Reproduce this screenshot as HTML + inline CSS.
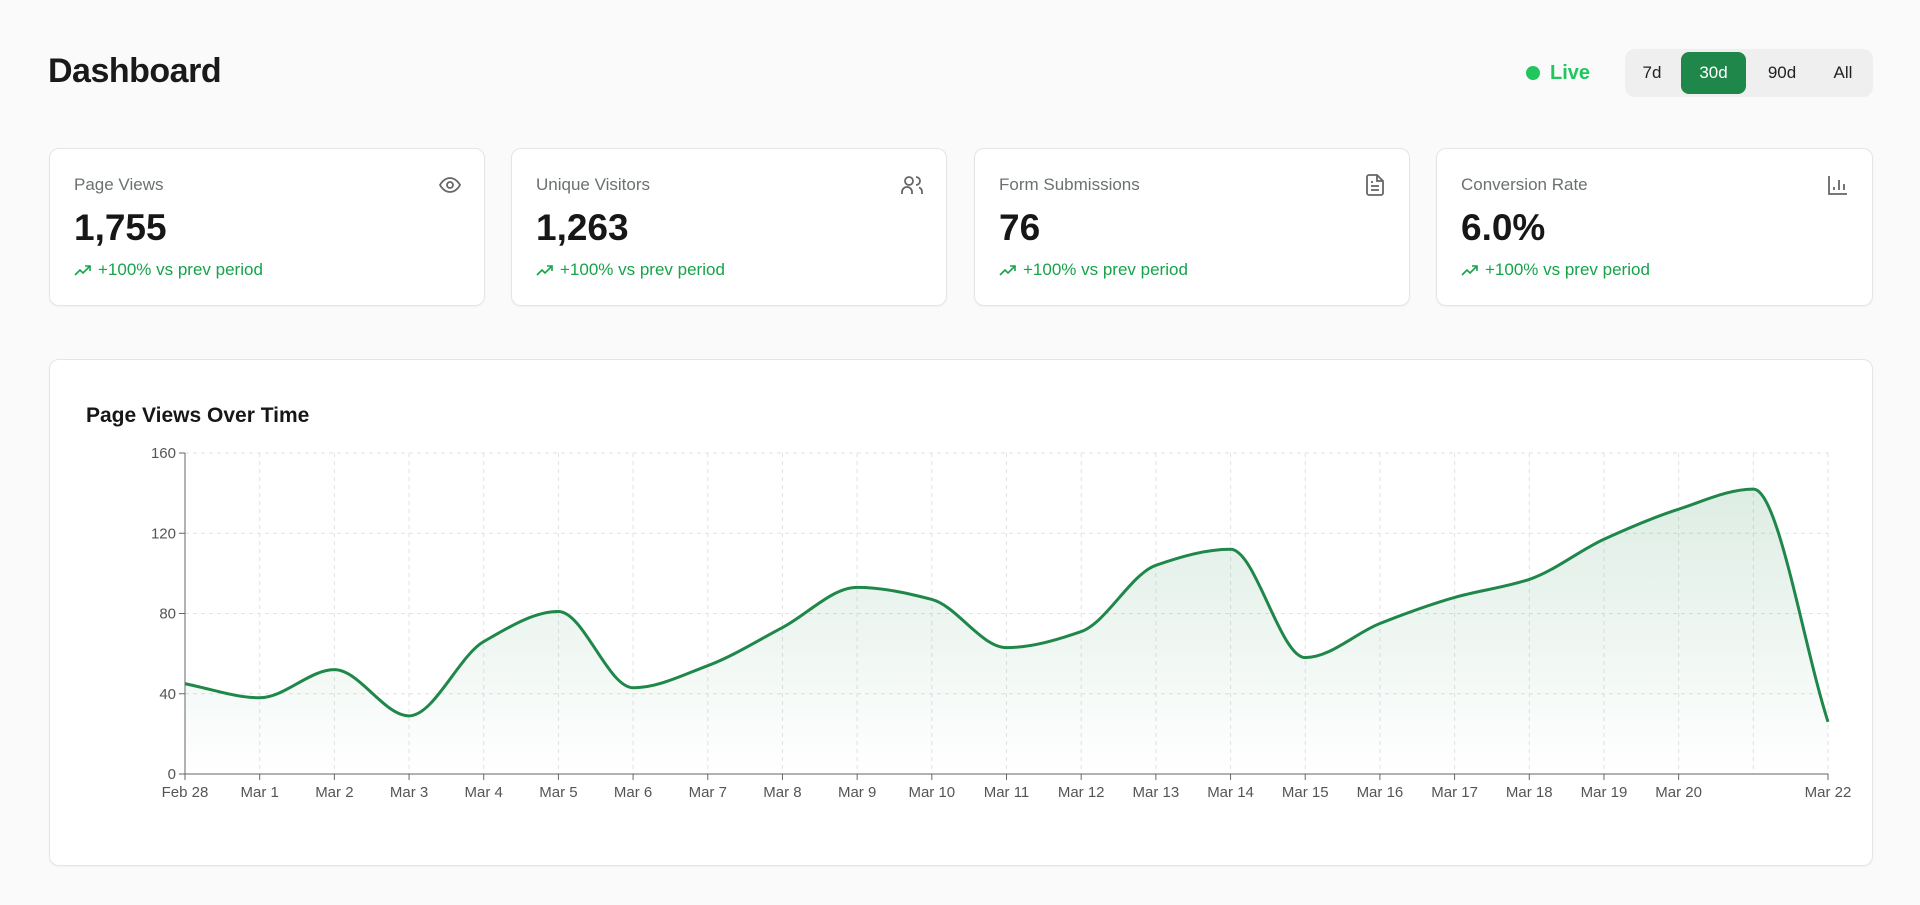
<!DOCTYPE html>
<html><head><meta charset="utf-8"><style>
*{box-sizing:border-box;margin:0;padding:0}
body{width:1920px;height:905px;background:#fafafa;font-family:"Liberation Sans",sans-serif;position:relative;overflow:hidden;color:#171717}
.abs{position:absolute}
h1{position:absolute;left:48px;top:52px;font-size:34px;font-weight:bold;letter-spacing:-0.5px;color:#1a1a1a}
.card{position:absolute;background:#fff;border:1.5px solid #e5e5e5;border-radius:10px;box-shadow:0 1px 2px rgba(0,0,0,0.04)}
.lbl{position:absolute;left:24px;top:26px;font-size:17px;color:#6b7070}
.val{position:absolute;left:24px;top:58px;font-size:37px;font-weight:bold;color:#171717}
.chg{position:absolute;left:24px;top:111px;font-size:17px;color:#16a34a;white-space:nowrap}
.chg svg{vertical-align:-2px;margin-right:6px}
.ico{position:absolute;right:22px;top:24px}
.seg{position:absolute;left:1625px;top:49px;width:248px;height:48px;background:#efefef;border-radius:10px}
.btn{position:absolute;top:3px;height:42px;line-height:42px;font-size:17px;text-align:center;color:#222;border-radius:8px;font-weight:500}
</style></head><body>
<h1>Dashboard</h1>
<div class="abs" style="left:1526px;top:62px;">
 <span style="position:absolute;left:0;top:4px;width:14px;height:14px;border-radius:50%;background:#22c55e"></span>
 <span style="position:absolute;left:24px;top:0;font-size:20px;color:#22c55e;font-weight:bold;white-space:nowrap">Live</span>
</div>
<div class="seg">
 <div class="btn" style="left:6px;width:42px">7d</div>
 <div class="btn" style="left:56px;width:65px;background:#1f874a;color:#fff">30d</div>
 <div class="btn" style="left:129px;width:56px">90d</div>
 <div class="btn" style="left:193px;width:50px">All</div>
</div>

<div class="card" style="left:49px;top:148px;width:436px;height:158px">
 <div class="lbl">Page Views</div><div class="val">1,755</div><div class="chg"><svg width="18" height="14" viewBox="0 0 18 14" fill="none" stroke="#16a34a" stroke-width="1.6"><path d="M1 12l5-5 3 3 7-7M11 3h5v5"/></svg>+100% vs prev period</div>
 <svg class="ico" width="24" height="24" viewBox="0 0 24 24" fill="none" stroke="#666" stroke-width="1.8"><path d="M2 12s3.5-7 10-7 10 7 10 7-3.5 7-10 7S2 12 2 12z"/><circle cx="12" cy="12" r="3"/></svg>
</div>
<div class="card" style="left:511px;top:148px;width:436px;height:158px">
 <div class="lbl">Unique Visitors</div><div class="val">1,263</div><div class="chg"><svg width="18" height="14" viewBox="0 0 18 14" fill="none" stroke="#16a34a" stroke-width="1.6"><path d="M1 12l5-5 3 3 7-7M11 3h5v5"/></svg>+100% vs prev period</div>
 <svg class="ico" width="24" height="24" viewBox="0 0 24 24" fill="none" stroke="#666" stroke-width="1.8"><circle cx="9" cy="8" r="4"/><path d="M2 21v-2a5 5 0 0 1 10 0v2M16 4a4 4 0 0 1 0 8M22 21v-2a5 5 0 0 0-3-4.6"/></svg>
</div>
<div class="card" style="left:974px;top:148px;width:436px;height:158px">
 <div class="lbl">Form Submissions</div><div class="val">76</div><div class="chg"><svg width="18" height="14" viewBox="0 0 18 14" fill="none" stroke="#16a34a" stroke-width="1.6"><path d="M1 12l5-5 3 3 7-7M11 3h5v5"/></svg>+100% vs prev period</div>
 <svg class="ico" width="24" height="24" viewBox="0 0 24 24" fill="none" stroke="#666" stroke-width="1.8"><path d="M14 2H6a2 2 0 0 0-2 2v16a2 2 0 0 0 2 2h12a2 2 0 0 0 2-2V8z"/><path d="M14 2v6h6M8 13h8M8 17h8M8 9h2"/></svg>
</div>
<div class="card" style="left:1436px;top:148px;width:437px;height:158px">
 <div class="lbl">Conversion Rate</div><div class="val">6.0%</div><div class="chg"><svg width="18" height="14" viewBox="0 0 18 14" fill="none" stroke="#16a34a" stroke-width="1.6"><path d="M1 12l5-5 3 3 7-7M11 3h5v5"/></svg>+100% vs prev period</div>
 <svg class="ico" width="24" height="24" viewBox="0 0 24 24" fill="none" stroke="#666" stroke-width="1.8"><path d="M3 3v18h18M8 17v-3M13 17V7M18 17v-6"/></svg>
</div>

<div class="card" style="left:49px;top:359px;width:1824px;height:507px">
 <div class="abs" style="left:36px;top:44px;font-size:21px;font-weight:bold;color:#171717">Page Views Over Time</div>
</div>
<svg id="chart" class="abs" style="left:0;top:0" width="1920" height="905"></svg>
<script>
const categories=["Feb 28","Mar 1","Mar 2","Mar 3","Mar 4","Mar 5","Mar 6","Mar 7","Mar 8","Mar 9","Mar 10","Mar 11","Mar 12","Mar 13","Mar 14","Mar 15","Mar 16","Mar 17","Mar 18","Mar 19","Mar 20","Mar 21","Mar 22"];
const pageViews=[45,38,52,29,66,81,43,54,73,93,87,63,71,104,112,58,75,88,97,117,132,142,26];
const yTicks=[0,40,80,120,160];
const xLabelSkip=["Mar 21"];
const NS="http://www.w3.org/2000/svg";
const svg=document.getElementById('chart');
const X0=185,X1=1828,Y0=774,Y1=453,YMAX=160;
const xs=i=>X0+(X1-X0)*i/(categories.length-1);
const ys=v=>Y0-(Y0-Y1)*v/YMAX;
function mk(t,a){const e=document.createElementNS(NS,t);for(const k in a)e.setAttribute(k,a[k]);svg.appendChild(e);return e;}
const defs=mk('defs',{});
defs.innerHTML='<linearGradient id="g" x1="0" y1="0" x2="0" y2="1"><stop offset="0" stop-color="#1f874a" stop-opacity="0.15"/><stop offset="1" stop-color="#1f874a" stop-opacity="0"/></linearGradient>';
yTicks.forEach(t=>{
 if(t>0){const l=mk('line',{x1:X0,x2:X1,y1:ys(t),y2:ys(t),stroke:'#e2e2e2','stroke-dasharray':'4 4'});
 
 }
 const tk=mk('line',{x1:X0-6,x2:X0,y1:ys(t),y2:ys(t),stroke:'#666'});
 
 
 const tx=mk('text',{x:X0-9,y:ys(t)+5,'text-anchor':'end','font-size':'15','fill':'#555','font-family':'Liberation Sans, sans-serif'});
 tx.textContent=t;
 
 
});
categories.forEach((c,i)=>{
 if(i>0){const l=mk('line',{x1:xs(i),x2:xs(i),y1:Y1,y2:Y0,stroke:'#e2e2e2','stroke-dasharray':'4 4'});
 
 }
 if(xLabelSkip.includes(c))return;
 const tk=mk('line',{x1:xs(i),x2:xs(i),y1:Y0,y2:Y0+6,stroke:'#666'});
 
 
 const tx=mk('text',{x:xs(i),y:Y0+23,'text-anchor':'middle','font-size':'15','fill':'#555','font-family':'Liberation Sans, sans-serif'});
 tx.textContent=c;
 
 
});
const P=pageViews.map((v,i)=>[xs(i),ys(v)]);
const n=P.length,d=[],m=[];
for(let i=0;i<n-1;i++)d.push((P[i+1][1]-P[i][1])/(P[i+1][0]-P[i][0]));
for(let i=0;i<n;i++){
 if(i==0)m.push(d[0]);else if(i==n-1)m.push(d[n-2]);
 else{const a=d[i-1],b=d[i];m.push((a*b<=0)?0:2/(1/a+1/b));}
}
let path='M'+P[0][0]+','+P[0][1];
for(let i=0;i<n-1;i++){const h=(P[i+1][0]-P[i][0])/3;
 path+=`C${P[i][0]+h},${P[i][1]+m[i]*h} ${P[i+1][0]-h},${P[i+1][1]-m[i+1]*h} ${P[i+1][0]},${P[i+1][1]}`;}
const area=mk('path',{d:path+`L${X1},${Y0}L${X0},${Y0}Z`,fill:'url(#g)'});


const line=mk('path',{d:path,fill:'none',stroke:'#1f874a','stroke-width':'3'});


const ax=mk('line',{x1:X0,x2:X0,y1:Y1,y2:Y0,stroke:'#666'});


const bx=mk('line',{x1:X0,x2:X1,y1:Y0,y2:Y0,stroke:'#666'});


</script>
</body></html>
